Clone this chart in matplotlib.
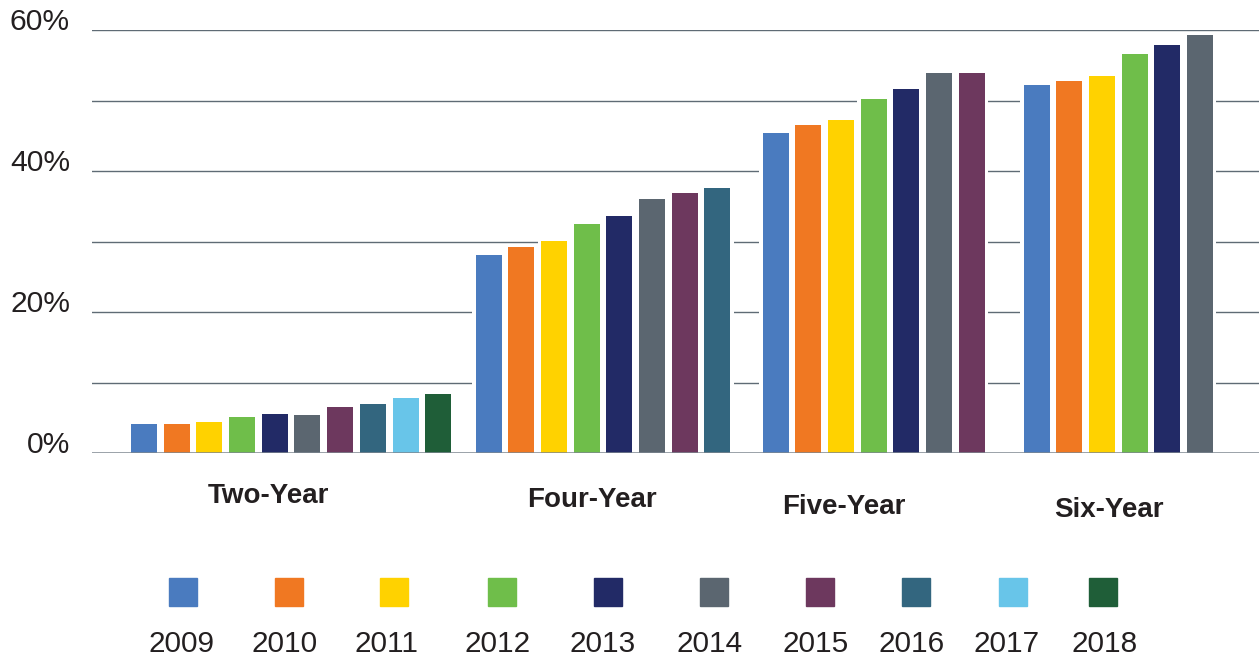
import matplotlib.pyplot as plt
from matplotlib.patches import Rectangle

plt.rcParams['font.family'] = ['Liberation Sans', 'DejaVu Sans']

years = ["2009", "2010", "2011", "2012", "2013", "2014", "2015", "2016", "2017", "2018"]
colors = ["#4a7bbf", "#f07822", "#ffd200", "#6fbe4a", "#222a66",
          "#5b6670", "#6d385e", "#33667f", "#68c5e9", "#1f5e38"]

categories = ["Two-Year", "Four-Year", "Five-Year", "Six-Year"]
two_year = [4.2, 4.1, 4.5, 5.2, 5.6, 5.5, 6.5, 7.0, 7.8, 8.4]
four_year = [28.1, 29.3, 30.1, 32.5, 33.7, 36.1, 36.9, 37.6]
five_year = [45.4, 46.6, 47.3, 50.2, 51.7, 53.9, 53.9]
six_year = [52.3, 52.8, 53.5, 56.7, 57.9, 59.3]
series = [two_year, four_year, five_year, six_year]

# layout (in units of bar pitch)
group_start = [0, 10.54, 19.32, 27.30]
bar_w = 0.795
label_xy = [(268, 496), (592, 500), (844, 507), (1109, 510)]
legend_box_x = [183, 289, 394, 502, 608, 714, 820, 916, 1013, 1103]
legend_txt_x = [182, 285, 387, 498, 603, 710, 816, 912, 1007, 1105]

W, H = 1259, 660
fig = plt.figure(figsize=(W / 100, H / 100), dpi=100)
ax = fig.add_axes([91.7 / W, 1 - 453.3 / H, 1 - 91.7 / W, (453.3 - 30.3) / H])
ax.set_xlim(-1.202, 34.5)
ax.set_ylim(0, 60)

for v in range(10, 70, 10):
    ax.axhline(v, color="#5f6b75", lw=1.0, zorder=1)

for start, vals in zip(group_start, series):
    xs = [start + i for i in range(len(vals))]
    # white columns hide the gridlines behind each group
    ax.bar([x - (1 - bar_w) / 2 for x in xs], vals, width=1.0, align="edge",
           color="white", zorder=2)
    ax.bar(xs, vals, width=bar_w, align="edge", color=colors[:len(vals)], zorder=3)

ax.axhline(0, color="#7d8790", lw=1.8, zorder=4)

for v in [0, 20, 40, 60]:
    ax.text((70 - 91.7) / (W - 91.7), v, f"{v}%", transform=ax.get_yaxis_transform(),
            ha="right", va="baseline", fontsize=21.6, color="#231f20")

ax.set_xticks([])
ax.set_yticks([])
for s in ax.spines.values():
    s.set_visible(False)

for name, (x, y) in zip(categories, label_xy):
    fig.text(x / W, 1 - y / H, name, ha="center", va="center",
             fontsize=20, fontweight="bold", color="#231f20")

for yr, c, bx, tx in zip(years, colors, legend_box_x, legend_txt_x):
    fig.add_artist(Rectangle(((bx - 14) / W, 1 - 605.5 / H), 28 / W, 28 / H,
                             transform=fig.transFigure, color=c))
    fig.text(tx / W, 1.5 / H, yr, ha="center", va="bottom",
             fontsize=21.4, color="#231f20")

fig.savefig("out.png", dpi=100)
